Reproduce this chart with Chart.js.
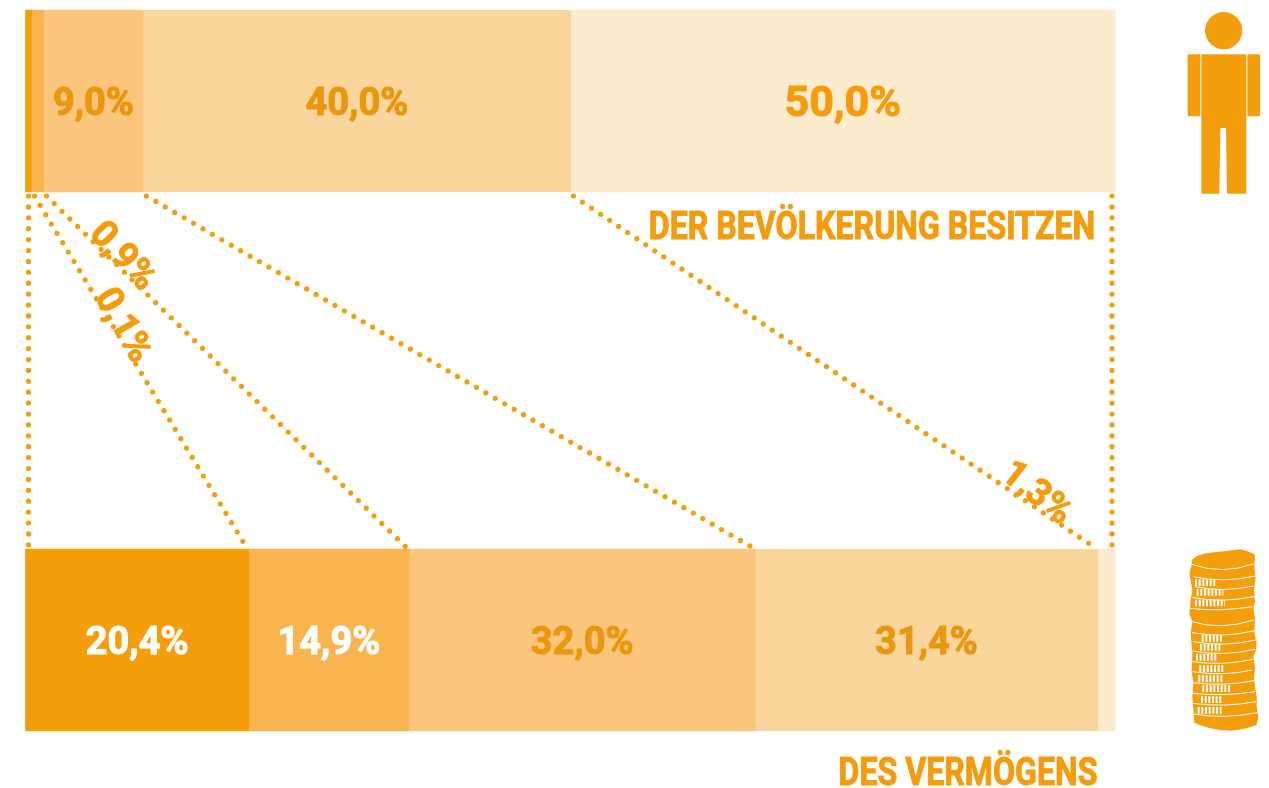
<!DOCTYPE html>
<html lang="de">
<head>
<meta charset="utf-8">
<title>Verteilung des Vermögens</title>
<script src="https://cdn.jsdelivr.net/npm/chart.js@4/dist/chart.umd.min.js"></script>
<style>
    html, body { margin: 0; padding: 0; background: #fff; }
    #wrap { position: relative; width: 1269px; height: 788px; overflow: hidden; }
    canvas { position: absolute; left: 0; top: 0; }
    svg { position: absolute; }
</style>
</head>
<body>
<div id="wrap">
    <canvas id="chart" width="1269" height="788"></canvas>

    <!-- person icon -->
    <svg style="left:1160px;top:0" width="109" height="210" viewBox="0 0 327 630" fill="#F59E0B">
        <circle cx="191" cy="92" r="56"/>
        <rect x="83" y="163" width="38" height="186" rx="3"/>
        <rect x="262" y="163" width="38" height="186" rx="3"/>
        <path d="M127 163H256Q259 163 259 166V577Q259 581 255 581H204Q201 581 201 577L198 388Q198 384 194 384H185Q181 384 181 388L178 577Q178 581 175 581H127Q124 581 124 577V166Q124 163 127 163Z"/>
    </svg>

    <!-- coin stack icon -->
    <svg style="left:1160px;top:540px" width="109" height="200" viewBox="0 0 327 600">
        <path fill="#F59E0B" d="M95 60Q110 42 150 38Q200 34 240 28Q270 34 285 45L283 85L287 115L282 150L285 185L280 205L285 235L283 280L290 305L288 330L280 350L285 385L282 410L285 440L290 470L290 500L295 530L290 555Q250 570 210 572Q150 570 103 548L100 510L97 470L100 430L95 395L97 340L92 280L97 245L88 220L92 180L97 150L88 100L95 75Z"/>
        <g fill="none" stroke="#fff" stroke-width="3">
            <path d="M95 73Q185 105 280 72"/>
            <path d="M100 110Q190 130 285 108"/>
            <path d="M105 140Q190 158 280 138"/>
            <path d="M97 172Q180 190 282 170"/>
            <path d="M92 205Q170 216 278 200"/>
            <path d="M97 245Q180 272 282 240"/>
            <path d="M97 278Q190 295 284 272"/>
            <path d="M100 305Q190 322 288 300"/>
            <path d="M97 333Q190 350 285 328"/>
            <path d="M97 365Q190 378 278 358"/>
            <path d="M97 395Q190 410 276 390"/>
            <path d="M100 428Q190 440 282 422"/>
            <path d="M97 460Q190 470 285 455"/>
            <path d="M100 490Q190 503 288 485"/>
            <path d="M100 522Q190 538 292 518"/>
        </g>
        <g fill="none" stroke="#fff" stroke-width="20" stroke-dasharray="6 5">
            <path d="M105 128H170"/>
            <path d="M110 157H190"/>
            <path d="M105 189H195"/>
            <path d="M125 295H188"/>
            <path d="M120 322H185"/>
            <path d="M108 352H172"/>
            <path d="M118 386H195"/>
            <path d="M115 416H192"/>
            <path d="M127 446H210"/>
            <path d="M123 479H188"/>
            <path d="M113 511H185"/>
        </g>
    </svg>
</div>

<script>
const categories = ['Bevölkerung', 'Vermögen'];
const seriesNames = ['Reichste 0,1%', 'Nächste 0,9%', 'Nächste 9%', 'Mittlere 40%', 'Untere 50%'];

// segment widths (% of the bar)
const populationValues = [0.55, 1.1, 9.17, 39.2, 49.98];
const wealthValues = [20.5, 14.7, 31.8, 31.4, 1.6];

const populationLabels = ['', '', '9,0%', '40,0%', '50,0%'];
const wealthLabels = ['20,4%', '14,9%', '32,0%', '31,4%', ''];
const populationLabelSizes = [0, 0, 38, 38, 43];

const barColors = ['#F59E0B', '#F9B34F', '#FBC57C', '#FBD69C', '#FCEBCD'];
const darkText = '#E9970E';
const orange = '#F49C0C';

const FONT = 'Roboto, "Liberation Sans", sans-serif';

function drawText(ctx, text, x, y, opts) {
    ctx.save();
    ctx.translate(x, y);
    if (opts.angle) ctx.rotate(opts.angle * Math.PI / 180);
    ctx.scale(opts.stretch || 1, 1);
    ctx.font = 'bold ' + opts.size + 'px ' + FONT;
    ctx.textAlign = 'center';
    ctx.textBaseline = 'middle';
    ctx.fillStyle = opts.color;
    ctx.strokeStyle = opts.color;
    ctx.lineWidth = 1;
    ctx.lineJoin = 'round';
    ctx.fillText(text, 0, 0);
    ctx.strokeText(text, 0, 0);
    ctx.restore();
}

// dotted connectors between the two bars, ends taken from the x scale
const connectorPlugin = {
    id: 'connectors',
    afterDatasetsDraw(chart) {
        const ctx = chart.ctx;
        const x = chart.scales.x;
        const y = chart.scales.y;
        const top = y.getPixelForValue(0) + 94;
        const bottom = y.getPixelForValue(1) - 92;
        let sumTop = 0;
        let sumBottom = 0;
        ctx.save();
        ctx.strokeStyle = '#F59E0B';
        ctx.lineWidth = 5.2;
        ctx.lineCap = 'round';
        ctx.setLineDash([0, 10.9]);
        for (let i = 0; i <= populationValues.length; i++) {
            const x1 = x.getPixelForValue(sumTop);
            const x2 = x.getPixelForValue(sumBottom);
            const last = i === populationValues.length;
            ctx.beginPath();
            ctx.moveTo(x1 + (last ? -3 : 3), top + 1);
            ctx.lineTo(x2 + (last ? -3 : i === 0 ? 3 : -2), bottom);
            ctx.stroke();
            if (!last) {
                sumTop += populationValues[i];
                sumBottom += wealthValues[i];
            }
        }
        ctx.restore();
    }
};

// value labels in the bars, headings and the slanted small shares
const textPlugin = {
    id: 'texts',
    afterDraw(chart) {
        const ctx = chart.ctx;
        chart.data.datasets.forEach((ds, i) => {
            const els = chart.getDatasetMeta(i).data;
            if (populationLabels[i]) {
                const el = els[0];
                drawText(ctx, populationLabels[i], (el.x + el.base) / 2, el.y + 4, {
                    size: populationLabelSizes[i],
                    color: i === 4 ? orange : darkText
                });
            }
            if (wealthLabels[i]) {
                const el = els[1];
                drawText(ctx, wealthLabels[i], (el.x + el.base) / 2, el.y + 4, {
                    size: 38,
                    color: i < 2 ? '#fff' : darkText
                });
            }
        });
        drawText(ctx, 'DER BEVÖLKERUNG BESITZEN', 872, 229, { size: 38, stretch: 0.845, color: orange });
        drawText(ctx, 'DES VERMÖGENS', 968, 775, { size: 38, stretch: 0.845, color: orange });
        drawText(ctx, '0,9%', 122, 257, { size: 37, angle: 47, color: orange });
        drawText(ctx, '0,1%', 122, 326, { size: 37, angle: 60, color: orange });
        drawText(ctx, '1,3%', 1036, 494, { size: 37, angle: 38, color: orange });
    }
};

new Chart(document.getElementById('chart').getContext('2d'), {
    type: 'bar',
    data: {
        labels: categories,
        datasets: seriesNames.map((name, i) => ({
            label: name,
            data: [populationValues[i], wealthValues[i]],
            backgroundColor: barColors[i],
            // faint seam where the 40% band meets the lightest one
            borderColor: '#F8CF8E',
            borderWidth: i === 3 ? { right: 1 } : 0,
            barThickness: 182,
            clip: false
        }))
    },
    options: {
        indexAxis: 'y',
        responsive: false,
        animation: false,
        layout: { padding: { left: 25.5, right: 154, top: 101, bottom: 148 } },
        plugins: {
            legend: { display: false },
            tooltip: { enabled: false }
        },
        scales: {
            x: { stacked: true, min: 0, max: 100, display: false },
            y: { stacked: true, offset: false, display: false }
        }
    },
    plugins: [connectorPlugin, textPlugin]
});
</script>
</body>
</html>
